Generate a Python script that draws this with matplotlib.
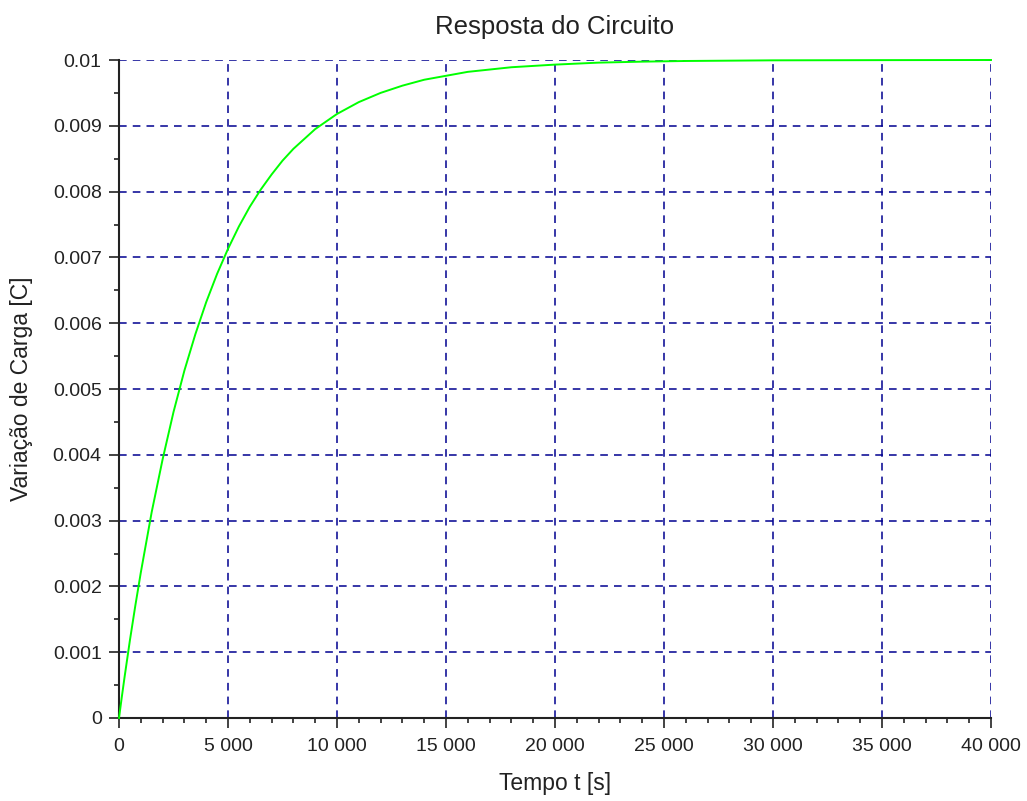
import matplotlib
matplotlib.use("Agg")
import matplotlib.pyplot as plt
from matplotlib.ticker import MultipleLocator, FuncFormatter

# valores (tempo em s, carga em C)
tempo = [0, 125, 250, 500, 750, 1000, 1500, 2000, 2500, 3000, 3500, 4000, 4500,
         5000, 5500, 6000, 6500, 7000, 7500, 8000, 9000, 10000, 11000, 12000,
         13000, 14000, 15000, 16000, 18000, 20000, 22000, 24000, 26000, 28000,
         30000, 35000, 40000]
carga = [0.0, 0.31e-3, 0.61e-3, 1.18e-3, 1.71e-3, 2.21e-3, 3.13e-3, 3.93e-3,
         4.65e-3, 5.28e-3, 5.83e-3, 6.32e-3, 6.75e-3, 7.13e-3, 7.47e-3,
         7.77e-3, 8.03e-3, 8.26e-3, 8.47e-3, 8.65e-3, 8.95e-3, 9.18e-3,
         9.36e-3, 9.50e-3, 9.61e-3, 9.70e-3, 9.76e-3, 9.82e-3, 9.89e-3,
         9.93e-3, 9.96e-3, 9.975e-3, 9.985e-3, 9.99e-3, 9.995e-3, 9.998e-3,
         10.0e-3]

plt.rcParams['font.family'] = ['Liberation Sans', 'DejaVu Sans']

fig = plt.figure(figsize=(10.27, 8.01), dpi=100)
ax = fig.add_axes([119 / 1027, 1 - 718 / 801, 872 / 1027, 658 / 801])

ax.plot(tempo, carga, color='#00ff00', lw=1.4, zorder=3, clip_on=False)

ax.set_xlim(0, 40000)
ax.set_ylim(0, 0.01)

ax.xaxis.set_major_locator(MultipleLocator(5000))
ax.xaxis.set_minor_locator(MultipleLocator(1000))
ax.yaxis.set_major_locator(MultipleLocator(0.001))
ax.yaxis.set_minor_locator(MultipleLocator(0.0005))

ax.xaxis.set_major_formatter(FuncFormatter(lambda v, p: f"{int(round(v)):,}".replace(",", " ")))
ax.yaxis.set_major_formatter(FuncFormatter(lambda v, p: "0" if abs(v) < 1e-12 else f"{v:.3f}".rstrip("0")))

ax.grid(True, which='major', color='#000090', linestyle=(0, (5, 4)), lw=1.1, zorder=1)

for s in ['top', 'right']:
    ax.spines[s].set_visible(False)
for s in ['left', 'bottom']:
    ax.spines[s].set_linewidth(1.5)
    ax.spines[s].set_color('#222222')

ax.tick_params(which='major', length=7.5, width=1.2, color='#222222', labelsize=14,
               labelcolor='#222222')
ax.tick_params(which='minor', length=3.8, width=1.2, color='#222222')
ax.tick_params(axis='y', which='major', pad=5)
ax.tick_params(axis='x', which='major', pad=7)

ax.set_title('Resposta do Circuito', fontsize=18.5, color='#222222', pad=19)
ax.set_xlabel('Tempo t [s]', fontsize=16.5, color='#222222', labelpad=12)
ax.set_ylabel('Variação de Carga [C]', fontsize=16.5, color='#222222', labelpad=14)

fig.savefig('out.png', dpi=100)
